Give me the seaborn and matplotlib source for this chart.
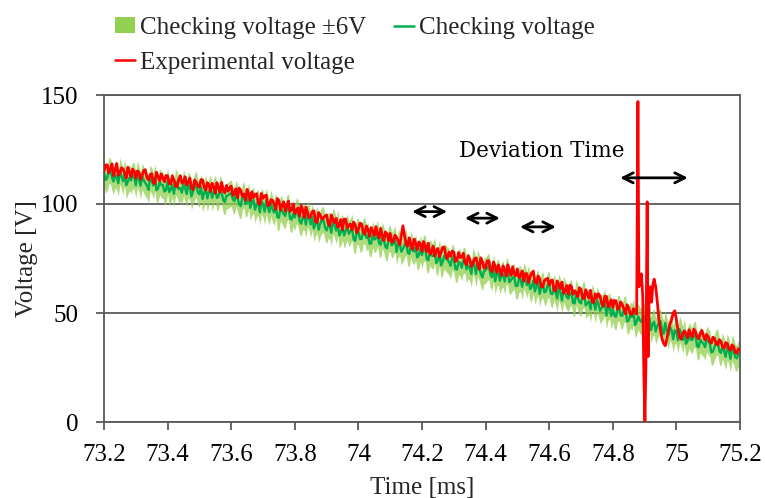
import numpy as np
import pandas as pd
import matplotlib
matplotlib.use("Agg")
import matplotlib.pyplot as plt
from matplotlib.patches import Patch
from matplotlib.lines import Line2D
import seaborn as sns

# ---------------- data ----------------
# Checking voltage sampled every 0.005 ms from 73.200 to 75.200 ms
check_time = np.round(np.linspace(73.2, 75.2, 401), 3)
check_volt = [
    114.6, 111.0, 111.9, 115.1, 115.3, 112.2, 110.3, 113.4, 112.5, 109.5, 115.2, 112.7, 110.4, 114.6, 108.6, 110.3, 112.2, 110.8, 113.1, 112.8,
    108.6, 113.9, 111.4, 108.4, 112.6, 110.9, 109.6, 108.5, 106.5, 111.8, 110.8, 108.5, 112.2, 106.3, 107.1, 110.2, 108.8, 108.7, 105.7, 106.4,
    110.5, 105.5, 106.7, 108.9, 104.7, 110.2, 108.8, 106.7, 107.3, 105.2, 109.8, 107.3, 104.6, 108.9, 107.5, 103.5, 105.8, 107.8, 109.3, 105.3,
    104.5, 107.7, 102.3, 105.2, 107.1, 102.6, 105.5, 107.3, 102.8, 105.6, 107.1, 102.8, 103.4, 107.2, 105.1, 101.8, 100.9, 103.8, 103.9, 104.6,
    105.1, 102.2, 101.3, 104.9, 102.7, 99.9, 99.0, 103.3, 104.4, 100.0, 100.6, 103.7, 98.3, 100.9, 101.8, 97.4, 100.1, 100.6, 96.2, 101.4,
    100.0, 96.5, 101.3, 98.6, 96.2, 100.5, 97.5, 96.1, 99.5, 94.1, 93.7, 98.2, 96.9, 95.4, 94.5, 98.1, 98.7, 93.4, 92.8, 95.7,
    93.8, 97.0, 95.9, 92.3, 91.0, 94.2, 93.9, 90.5, 95.6, 93.8, 90.6, 94.1, 88.8, 91.4, 92.5, 88.2, 91.0, 92.6, 92.8, 89.1,
    87.9, 90.1, 90.0, 86.8, 92.4, 90.6, 87.8, 91.4, 85.6, 87.2, 89.5, 85.6, 87.8, 89.4, 86.3, 87.5, 89.4, 83.7, 83.1, 87.4,
    87.3, 84.1, 83.9, 87.6, 87.6, 84.5, 85.4, 81.8, 81.9, 86.1, 83.7, 84.2, 86.6, 82.0, 81.3, 85.6, 83.7, 80.4, 79.7, 83.7,
    84.2, 81.0, 82.1, 84.2, 78.0, 81.6, 82.1, 78.1, 79.4, 81.2, 82.7, 77.8, 77.1, 81.5, 78.8, 78.2, 80.1, 75.5, 76.5, 79.5,
    76.6, 79.6, 79.7, 74.8, 74.2, 77.8, 76.5, 76.1, 78.8, 72.9, 74.1, 77.7, 71.8, 73.5, 76.2, 75.0, 74.3, 73.4, 71.6, 75.7,
    74.7, 70.3, 69.9, 73.4, 73.0, 70.7, 74.3, 74.0, 70.0, 71.8, 70.8, 67.9, 73.8, 72.1, 67.9, 72.8, 70.8, 68.0, 66.3, 69.3,
    69.6, 70.7, 71.4, 67.7, 66.4, 70.6, 64.6, 67.9, 68.9, 64.8, 67.2, 67.9, 64.5, 69.3, 68.6, 64.1, 65.1, 66.2, 66.7, 62.4,
    62.4, 65.6, 65.7, 62.0, 67.1, 65.4, 62.8, 66.1, 61.0, 62.0, 64.8, 59.9, 62.6, 64.1, 58.8, 62.0, 63.0, 59.5, 60.0, 63.0,
    62.8, 58.9, 58.6, 61.9, 59.7, 56.7, 61.9, 59.8, 55.7, 60.9, 59.2, 57.4, 56.6, 58.9, 59.3, 54.6, 54.4, 59.5, 56.9, 55.0,
    54.4, 58.0, 58.6, 53.5, 54.6, 55.3, 51.7, 57.2, 55.2, 51.5, 55.9, 54.3, 51.0, 52.4, 53.1, 54.8, 48.8, 52.5, 53.3, 48.7,
    51.7, 48.8, 48.2, 51.9, 52.2, 48.9, 48.7, 51.5, 52.0, 46.1, 46.6, 49.1, 48.2, 50.4, 44.5, 46.0, 48.4, 46.6, 45.9, 48.2,
    48.5, 44.7, 44.4, 47.6, 42.2, 45.0, 46.0, 41.6, 44.1, 45.4, 46.2, 42.3, 40.5, 45.4, 41.7, 39.8, 43.5, 42.0, 38.0, 42.1,
    41.4, 37.5, 42.6, 40.6, 37.7, 41.4, 35.9, 37.1, 39.7, 37.8, 37.6, 40.1, 40.0, 34.8, 34.3, 37.8, 36.6, 36.0, 34.3, 38.0,
    37.0, 35.9, 31.9, 32.3, 34.5, 36.4, 36.8, 32.6, 31.7, 34.9, 32.5, 29.9, 34.6, 32.5, 29.0, 33.8, 32.5, 29.7, 29.2, 31.5,
    31.2,
]
band_halfwidth = 6.0

# Experimental voltage: regular part 73.200 .. 74.870 ms (0.005 ms step)
exp_time_a = np.round(np.linspace(73.2, 74.87, 335), 3)
exp_volt_a = [
    115.2, 117.9, 117.9, 114.3, 116.1, 118.4, 113.0, 115.8, 118.6, 113.1, 114.0, 116.6, 116.1, 114.1, 111.9, 116.9, 114.6, 112.5, 116.0, 115.0,
    111.8, 115.2, 114.6, 111.3, 113.1, 115.4, 115.7, 112.1, 111.0, 113.4, 113.9, 109.8, 109.3, 114.6, 112.5, 110.7, 113.8, 111.9, 110.2, 113.1,
    112.9, 109.4, 109.2, 112.9, 111.0, 108.1, 107.9, 111.3, 113.0, 109.6, 110.1, 112.5, 108.6, 110.0, 111.9, 107.4, 106.6, 111.0, 109.9, 108.3,
    107.7, 111.2, 111.1, 107.7, 106.4, 109.8, 108.9, 105.8, 109.5, 107.9, 104.9, 109.8, 107.5, 105.4, 109.9, 106.5, 105.1, 108.5, 105.9, 107.3,
    108.2, 103.9, 104.9, 107.0, 102.8, 107.3, 106.3, 103.6, 104.6, 101.7, 106.7, 104.4, 101.7, 105.6, 102.9, 104.4, 104.7, 100.6, 99.8, 104.8,
    102.6, 103.6, 104.1, 99.3, 99.5, 102.0, 101.6, 100.1, 97.5, 102.5, 101.6, 97.3, 99.4, 101.0, 96.7, 99.3, 101.3, 96.7, 97.2, 100.0,
    95.6, 97.1, 98.2, 94.4, 99.2, 97.3, 93.8, 98.6, 96.1, 93.7, 94.3, 96.5, 96.9, 92.0, 91.5, 96.1, 94.9, 93.0, 93.7, 94.5,
    95.0, 91.0, 90.1, 95.0, 92.9, 91.4, 93.4, 89.4, 90.1, 92.9, 88.1, 93.1, 93.0, 89.0, 90.4, 90.8, 88.1, 91.7, 90.5, 86.8,
    88.4, 91.2, 90.9, 87.2, 86.1, 89.9, 88.3, 85.1, 89.2, 87.6, 85.6, 89.6, 86.4, 84.4, 88.9, 85.4, 83.2, 87.2, 86.3, 83.3,
    86.5, 82.5, 82.7, 85.7, 84.7, 83.1, 81.3, 85.4, 90.0, 85.6, 81.8, 80.6, 84.5, 81.6, 79.2, 83.9, 82.2, 79.0, 82.6, 81.7,
    78.3, 82.8, 80.8, 78.2, 82.1, 77.0, 78.1, 80.6, 76.1, 78.8, 79.6, 75.8, 77.9, 80.2, 80.2, 76.2, 75.0, 77.9, 76.1, 78.4,
    77.9, 73.7, 74.1, 77.7, 75.5, 75.6, 77.4, 73.2, 72.1, 76.2, 74.8, 71.3, 72.7, 74.9, 75.3, 72.2, 70.1, 75.3, 73.6, 70.6,
    71.0, 73.9, 74.0, 70.1, 69.0, 73.4, 71.4, 68.6, 72.1, 69.8, 67.2, 71.6, 69.8, 67.1, 72.1, 69.5, 67.2, 71.2, 68.1, 67.1,
    70.2, 66.2, 67.1, 69.3, 64.6, 68.1, 68.0, 64.0, 66.6, 68.5, 69.2, 64.5, 63.5, 67.0, 65.8, 62.0, 62.0, 64.9, 65.5, 65.9,
    62.8, 64.8, 65.1, 60.6, 60.0, 64.7, 63.1, 61.2, 64.2, 59.1, 60.0, 62.6, 58.6, 62.8, 62.0, 58.6, 60.2, 59.4, 57.5, 61.6,
    60.8, 56.8, 56.7, 60.7, 58.5, 56.8, 60.4, 55.1, 54.8, 58.8, 56.9, 58.8, 57.8, 54.2, 53.1, 57.6, 57.6, 52.8, 54.2, 56.1,
    52.5, 55.7, 55.6, 51.7, 52.4, 55.1, 53.8, 51.7, 49.6, 53.8, 52.4, 49.5, 49.3, 52.0, 50.9,
]
# Experimental voltage: disturbance and tail
exp_time_b = [
    74.875, 74.879, 74.882, 74.886, 74.890, 74.894, 74.898, 74.901, 74.904,
    74.908, 74.911, 74.914, 74.918, 74.922, 74.926, 74.930, 74.935, 74.940,
    74.945, 74.950, 74.955, 74.960, 74.965, 74.970, 74.975, 74.980, 74.985,
    74.990, 74.995, 75.000, 75.005, 75.010, 75.015, 75.020,
    75.025, 75.030, 75.035, 75.040, 75.045, 75.050, 75.055, 75.060, 75.065,
    75.070, 75.075, 75.080, 75.085, 75.090, 75.095, 75.100, 75.105, 75.110,
    75.115, 75.120, 75.125, 75.130, 75.135, 75.140, 75.145, 75.150, 75.155,
    75.160, 75.165, 75.170, 75.175, 75.180, 75.185, 75.190, 75.195, 75.200,
]
exp_volt_b = [
    49.5, 147.0, 62.0, 64.0, 68.0, 58.0, 20.0, 0.5, 25.0,
    101.0, 30.0, 56.0, 62.0, 55.0, 63.0, 65.5, 62.0, 55.0,
    47.0, 42.0, 38.0, 36.0, 35.0, 38.0, 42.0, 45.0, 47.0,
    50.0, 51.0, 47.0, 42.0, 39.0, 38.0, 40.5,
    41.8, 40.5, 38.6, 42.3, 40.1, 39.0, 42.6, 41.4, 38.9,
    38.2, 40.7, 42.0, 39.5, 37.6, 40.2, 39.1, 37.0, 36.2,
    38.9, 38.3, 35.7, 35.4, 37.8, 36.9, 34.5, 33.8, 36.4,
    36.0, 33.7, 32.9, 35.3, 34.6, 32.0, 31.5, 33.6, 33.0,
]

# Annotation arrows (time start, time end, voltage)
arrow_t0 = [74.169, 74.335, 74.508, 74.823]
arrow_t1 = [74.279, 74.445, 74.621, 75.036]
arrow_v = [96.5, 93.5, 89.5, 112.0]

x_ticks = [73.2, 73.4, 73.6, 73.8, 74.0, 74.2, 74.4, 74.6, 74.8, 75.0, 75.2]
x_tick_labels = ["73.2", "73.4", "73.6", "73.8", "74", "74.2", "74.4",
                 "74.6", "74.8", "75", "75.2"]
y_ticks = [0, 50, 100, 150]

# ---------------- figure ----------------
sns.set_theme(style="white")
plt.rcParams["font.family"] = ["Liberation Serif", "DejaVu Serif"]

fig = plt.figure(figsize=(7.65, 4.98), dpi=100)
ax = fig.add_axes([104 / 765, 1 - 422 / 498, (740 - 104) / 765, (422 - 95) / 498])

check_df = pd.DataFrame({"t": check_time, "v": check_volt})
exp_df = pd.DataFrame({
    "t": np.concatenate([exp_time_a, exp_time_b]),
    "v": np.concatenate([exp_volt_a, exp_volt_b]),
})

c_band = "#92D050"
c_check = "#00B050"
c_exp = "#FF0000"
grid_c = "#595959"

ax.fill_between(check_df["t"], check_df["v"] - band_halfwidth,
                check_df["v"] + band_halfwidth, color=c_band, alpha=0.75,
                linewidth=0, zorder=1)
sns.lineplot(data=check_df, x="t", y="v", ax=ax, color=c_check,
             linewidth=1.7, zorder=2, sort=True)
sns.lineplot(data=exp_df, x="t", y="v", ax=ax, color=c_exp,
             linewidth=2.0, zorder=3, sort=True)

ax.set_xlim(73.2, 75.2)
ax.set_ylim(0, 150)
ax.set_xticks(x_ticks)
ax.set_xticklabels(x_tick_labels)
ax.set_yticks(y_ticks)
ax.yaxis.grid(True, color=grid_c, linewidth=1.3)
ax.xaxis.grid(False)
ax.set_axisbelow(True)
for s in ax.spines.values():
    s.set_color(grid_c)
    s.set_linewidth(1.3)
ax.tick_params(axis="both", which="major", direction="out", length=6,
               width=1.3, color=grid_c, labelsize=18, labelcolor="black",
               bottom=True, left=True)
ax.tick_params(axis="x", pad=9.5)
ax.tick_params(axis="y", pad=12.5)
ax.set_xlabel("Time [ms]", fontsize=18, labelpad=8)
ax.set_ylabel("Voltage [V]", fontsize=18, labelpad=2)

for t0, t1, v in zip(arrow_t0, arrow_t1, arrow_v):
    ax.annotate("", xy=(t1, v), xytext=(t0, v),
                arrowprops=dict(arrowstyle="<->", color="black", lw=2.0,
                                mutation_scale=18, shrinkA=0, shrinkB=0),
                zorder=5)
ax.text(74.577, 124.3, "Deviation Time", fontsize=15.5, ha="center",
        va="center", color="black", family="DejaVu Serif")

handles = [
    Patch(facecolor=c_band, edgecolor="none", label="Checking voltage \u00b16V"),
    Line2D([0], [0], color=c_exp, lw=1.8, label="Experimental voltage"),
    Line2D([0], [0], color=c_check, lw=1.8, label="Checking voltage"),
]
fig.legend(handles=handles, loc="upper left", ncol=2,
           bbox_to_anchor=(115 / 765, 1 - 17 / 498), frameon=False,
           fontsize=18, handlelength=0.8, handleheight=0.6,
           handletextpad=0.2, columnspacing=1.1, labelspacing=0.5,
           borderpad=0, borderaxespad=0)

fig.savefig("out.png", dpi=100)
